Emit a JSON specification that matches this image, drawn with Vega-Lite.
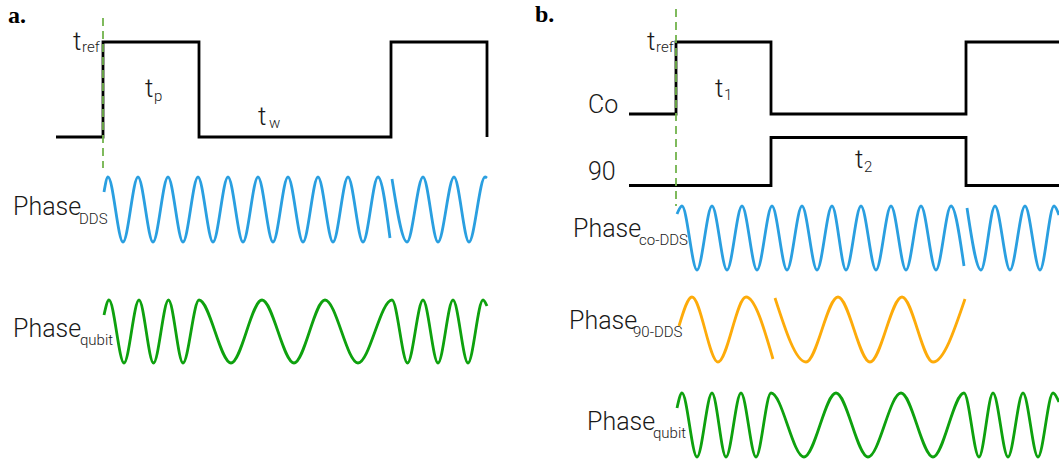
{
  "$schema": "https://vega.github.io/schema/vega-lite/v6.json",
  "width": 1059,
  "height": 465,
  "autosize": "none",
  "padding": 0,
  "background": "white",
  "config": {"view": {"stroke": null}},
  "datasets": {
    "pulses": [
      {"seg": "a-ref", "i": 1, "t": 56, "v": 137}, {"seg": "a-ref", "i": 2, "t": 103, "v": 137}, {"seg": "a-ref", "i": 3, "t": 103, "v": 42}, {"seg": "a-ref", "i": 4, "t": 199, "v": 42}, {"seg": "a-ref", "i": 5, "t": 199, "v": 137}, {"seg": "a-ref", "i": 6, "t": 391, "v": 137}, {"seg": "a-ref", "i": 7, "t": 391, "v": 42}, {"seg": "a-ref", "i": 8, "t": 487, "v": 42}, {"seg": "a-ref", "i": 9, "t": 487, "v": 137},
      {"seg": "b-co", "i": 1, "t": 629, "v": 114}, {"seg": "b-co", "i": 2, "t": 676, "v": 114}, {"seg": "b-co", "i": 3, "t": 676, "v": 42}, {"seg": "b-co", "i": 4, "t": 771, "v": 42}, {"seg": "b-co", "i": 5, "t": 771, "v": 114}, {"seg": "b-co", "i": 6, "t": 966, "v": 114}, {"seg": "b-co", "i": 7, "t": 966, "v": 42}, {"seg": "b-co", "i": 8, "t": 1062, "v": 42},
      {"seg": "b-90", "i": 1, "t": 629, "v": 185.5}, {"seg": "b-90", "i": 2, "t": 771, "v": 185.5}, {"seg": "b-90", "i": 3, "t": 771, "v": 137.5}, {"seg": "b-90", "i": 4, "t": 966, "v": 137.5}, {"seg": "b-90", "i": 5, "t": 966, "v": 185.5}, {"seg": "b-90", "i": 6, "t": 1062, "v": 185.5}
    ],
    "markers": [
      {"seg": "a", "t": 103, "v": 18}, {"seg": "a", "t": 103, "v": 168},
      {"seg": "b", "t": 676, "v": 9}, {"seg": "b", "t": 676, "v": 206}
    ],
    "waves": [
      {"seg": "a-dds-1", "sig": "DDS", "t": 104, "v": 192}, {"seg": "a-dds-1", "sig": "DDS", "t": 108, "v": 177}, {"seg": "a-dds-1", "sig": "DDS", "t": 123, "v": 242}, {"seg": "a-dds-1", "sig": "DDS", "t": 138, "v": 177}, {"seg": "a-dds-1", "sig": "DDS", "t": 153, "v": 242}, {"seg": "a-dds-1", "sig": "DDS", "t": 168, "v": 177}, {"seg": "a-dds-1", "sig": "DDS", "t": 183, "v": 242}, {"seg": "a-dds-1", "sig": "DDS", "t": 198, "v": 177}, {"seg": "a-dds-1", "sig": "DDS", "t": 213, "v": 242}, {"seg": "a-dds-1", "sig": "DDS", "t": 228, "v": 177}, {"seg": "a-dds-1", "sig": "DDS", "t": 243, "v": 242}, {"seg": "a-dds-1", "sig": "DDS", "t": 258, "v": 177}, {"seg": "a-dds-1", "sig": "DDS", "t": 273, "v": 242}, {"seg": "a-dds-1", "sig": "DDS", "t": 288, "v": 177}, {"seg": "a-dds-1", "sig": "DDS", "t": 303, "v": 242}, {"seg": "a-dds-1", "sig": "DDS", "t": 318, "v": 177}, {"seg": "a-dds-1", "sig": "DDS", "t": 333, "v": 242}, {"seg": "a-dds-1", "sig": "DDS", "t": 348, "v": 177}, {"seg": "a-dds-1", "sig": "DDS", "t": 363, "v": 242}, {"seg": "a-dds-1", "sig": "DDS", "t": 378, "v": 177}, {"seg": "a-dds-1", "sig": "DDS", "t": 390, "v": 238},
      {"seg": "a-dds-2", "sig": "DDS", "t": 392, "v": 179}, {"seg": "a-dds-2", "sig": "DDS", "t": 407, "v": 242}, {"seg": "a-dds-2", "sig": "DDS", "t": 423, "v": 177}, {"seg": "a-dds-2", "sig": "DDS", "t": 438, "v": 242}, {"seg": "a-dds-2", "sig": "DDS", "t": 454, "v": 177}, {"seg": "a-dds-2", "sig": "DDS", "t": 469, "v": 242}, {"seg": "a-dds-2", "sig": "DDS", "t": 485, "v": 177}, {"seg": "a-dds-2", "sig": "DDS", "t": 487, "v": 178},
      {"seg": "a-qb", "sig": "qubit", "t": 104, "v": 315}, {"seg": "a-qb", "sig": "qubit", "t": 109, "v": 300}, {"seg": "a-qb", "sig": "qubit", "t": 124, "v": 363}, {"seg": "a-qb", "sig": "qubit", "t": 139, "v": 300}, {"seg": "a-qb", "sig": "qubit", "t": 153.5, "v": 363}, {"seg": "a-qb", "sig": "qubit", "t": 168.5, "v": 300}, {"seg": "a-qb", "sig": "qubit", "t": 183, "v": 363}, {"seg": "a-qb", "sig": "qubit", "t": 199, "v": 300}, {"seg": "a-qb", "sig": "qubit", "t": 231, "v": 363}, {"seg": "a-qb", "sig": "qubit", "t": 262, "v": 300}, {"seg": "a-qb", "sig": "qubit", "t": 294, "v": 363}, {"seg": "a-qb", "sig": "qubit", "t": 325, "v": 300}, {"seg": "a-qb", "sig": "qubit", "t": 358, "v": 363}, {"seg": "a-qb", "sig": "qubit", "t": 392, "v": 300}, {"seg": "a-qb", "sig": "qubit", "t": 407.5, "v": 363}, {"seg": "a-qb", "sig": "qubit", "t": 423, "v": 300}, {"seg": "a-qb", "sig": "qubit", "t": 438, "v": 363}, {"seg": "a-qb", "sig": "qubit", "t": 453, "v": 300}, {"seg": "a-qb", "sig": "qubit", "t": 468, "v": 363}, {"seg": "a-qb", "sig": "qubit", "t": 483, "v": 300}, {"seg": "a-qb", "sig": "qubit", "t": 487, "v": 306},
      {"seg": "b-dds-1", "sig": "DDS", "t": 677, "v": 214}, {"seg": "b-dds-1", "sig": "DDS", "t": 682, "v": 206}, {"seg": "b-dds-1", "sig": "DDS", "t": 697, "v": 270}, {"seg": "b-dds-1", "sig": "DDS", "t": 712, "v": 206}, {"seg": "b-dds-1", "sig": "DDS", "t": 727, "v": 270}, {"seg": "b-dds-1", "sig": "DDS", "t": 742, "v": 206}, {"seg": "b-dds-1", "sig": "DDS", "t": 757, "v": 270}, {"seg": "b-dds-1", "sig": "DDS", "t": 772, "v": 206}, {"seg": "b-dds-1", "sig": "DDS", "t": 787, "v": 270}, {"seg": "b-dds-1", "sig": "DDS", "t": 802, "v": 206}, {"seg": "b-dds-1", "sig": "DDS", "t": 817, "v": 270}, {"seg": "b-dds-1", "sig": "DDS", "t": 832, "v": 206}, {"seg": "b-dds-1", "sig": "DDS", "t": 846, "v": 270}, {"seg": "b-dds-1", "sig": "DDS", "t": 861, "v": 206}, {"seg": "b-dds-1", "sig": "DDS", "t": 876, "v": 270}, {"seg": "b-dds-1", "sig": "DDS", "t": 891, "v": 206}, {"seg": "b-dds-1", "sig": "DDS", "t": 906, "v": 270}, {"seg": "b-dds-1", "sig": "DDS", "t": 921, "v": 206}, {"seg": "b-dds-1", "sig": "DDS", "t": 936, "v": 270}, {"seg": "b-dds-1", "sig": "DDS", "t": 951, "v": 206}, {"seg": "b-dds-1", "sig": "DDS", "t": 964, "v": 266},
      {"seg": "b-dds-2", "sig": "DDS", "t": 967, "v": 208}, {"seg": "b-dds-2", "sig": "DDS", "t": 981, "v": 270}, {"seg": "b-dds-2", "sig": "DDS", "t": 995, "v": 206}, {"seg": "b-dds-2", "sig": "DDS", "t": 1010, "v": 270}, {"seg": "b-dds-2", "sig": "DDS", "t": 1025, "v": 206}, {"seg": "b-dds-2", "sig": "DDS", "t": 1040, "v": 270}, {"seg": "b-dds-2", "sig": "DDS", "t": 1054, "v": 206}, {"seg": "b-dds-2", "sig": "DDS", "t": 1059, "v": 215},
      {"seg": "b-90-1", "sig": "90-DDS", "t": 679, "v": 326}, {"seg": "b-90-1", "sig": "90-DDS", "t": 692, "v": 297}, {"seg": "b-90-1", "sig": "90-DDS", "t": 718, "v": 362}, {"seg": "b-90-1", "sig": "90-DDS", "t": 746, "v": 297}, {"seg": "b-90-1", "sig": "90-DDS", "t": 773, "v": 359},
      {"seg": "b-90-2", "sig": "90-DDS", "t": 775, "v": 298}, {"seg": "b-90-2", "sig": "90-DDS", "t": 806, "v": 362}, {"seg": "b-90-2", "sig": "90-DDS", "t": 838, "v": 297}, {"seg": "b-90-2", "sig": "90-DDS", "t": 870, "v": 362}, {"seg": "b-90-2", "sig": "90-DDS", "t": 902, "v": 297}, {"seg": "b-90-2", "sig": "90-DDS", "t": 933, "v": 362}, {"seg": "b-90-2", "sig": "90-DDS", "t": 965, "v": 299},
      {"seg": "b-qb", "sig": "qubit", "t": 677, "v": 408}, {"seg": "b-qb", "sig": "qubit", "t": 682, "v": 393}, {"seg": "b-qb", "sig": "qubit", "t": 697, "v": 457}, {"seg": "b-qb", "sig": "qubit", "t": 712, "v": 393}, {"seg": "b-qb", "sig": "qubit", "t": 726, "v": 457}, {"seg": "b-qb", "sig": "qubit", "t": 741, "v": 393}, {"seg": "b-qb", "sig": "qubit", "t": 756, "v": 457}, {"seg": "b-qb", "sig": "qubit", "t": 771, "v": 393}, {"seg": "b-qb", "sig": "qubit", "t": 804, "v": 457}, {"seg": "b-qb", "sig": "qubit", "t": 836, "v": 393}, {"seg": "b-qb", "sig": "qubit", "t": 868, "v": 457}, {"seg": "b-qb", "sig": "qubit", "t": 901, "v": 393}, {"seg": "b-qb", "sig": "qubit", "t": 933, "v": 457}, {"seg": "b-qb", "sig": "qubit", "t": 964, "v": 393}, {"seg": "b-qb", "sig": "qubit", "t": 979, "v": 457}, {"seg": "b-qb", "sig": "qubit", "t": 993, "v": 393}, {"seg": "b-qb", "sig": "qubit", "t": 1008, "v": 457}, {"seg": "b-qb", "sig": "qubit", "t": 1023, "v": 393}, {"seg": "b-qb", "sig": "qubit", "t": 1038, "v": 457}, {"seg": "b-qb", "sig": "qubit", "t": 1053, "v": 393}, {"seg": "b-qb", "sig": "qubit", "t": 1059, "v": 402}
    ],
    "tmain": [
      {"t": 73, "v": 50, "label": "t"}, {"t": 145, "v": 97, "label": "t"}, {"t": 258, "v": 125, "label": "t"},
      {"t": 647, "v": 50, "label": "t"}, {"t": 715, "v": 97, "label": "t"}, {"t": 855, "v": 168, "label": "t"}
    ],
    "names": [
      {"t": 13, "v": 215, "label": "Phase"}, {"t": 13, "v": 337, "label": "Phase"},
      {"t": 573, "v": 237, "label": "Phase"}, {"t": 569, "v": 329, "label": "Phase"}, {"t": 587, "v": 430, "label": "Phase"},
      {"t": 588, "v": 113, "label": "Co"}, {"t": 588, "v": 180, "label": "90"}
    ],
    "subs": [
      {"t": 82, "v": 52, "label": "ref"}, {"t": 154, "v": 101, "label": "p"}, {"t": 269, "v": 128, "label": "w"},
      {"t": 656, "v": 52, "label": "ref"}, {"t": 724, "v": 100, "label": "1"}, {"t": 864, "v": 172, "label": "2"},
      {"t": 79, "v": 224, "label": "DDS"}, {"t": 80, "v": 345, "label": "qubit"},
      {"t": 639, "v": 245, "label": "co-DDS"}, {"t": 633, "v": 337, "label": "90-DDS"}, {"t": 653, "v": 438, "label": "qubit"}
    ],
    "panels": [
      {"t": 8, "v": 23, "label": "a."}, {"t": 535, "v": 22, "label": "b."}
    ]
  },
  "encoding": {
    "x": {"field": "t", "type": "quantitative", "scale": {"domain": [0, 1059], "nice": false, "zero": false}, "axis": null},
    "y": {"field": "v", "type": "quantitative", "scale": {"domain": [0, 465], "nice": false, "zero": false, "reverse": true}, "axis": null}
  },
  "layer": [
    {
      "data": {"name": "pulses"},
      "mark": {"type": "line", "color": "#000000", "strokeWidth": 2.8, "strokeJoin": "miter", "strokeCap": "butt"},
      "encoding": {"detail": {"field": "seg"}, "order": {"field": "i", "type": "quantitative"}}
    },
    {
      "data": {"name": "markers"},
      "mark": {"type": "line", "color": "#72b34c", "strokeWidth": 1.8, "strokeDash": [8, 5]},
      "encoding": {"detail": {"field": "seg"}}
    },
    {
      "data": {"name": "waves"},
      "mark": {"type": "line", "interpolate": "monotone", "strokeWidth": 2.8, "strokeCap": "butt"},
      "encoding": {
        "detail": {"field": "seg"},
        "color": {"field": "sig", "type": "nominal", "legend": null,
          "scale": {"domain": ["DDS", "qubit", "90-DDS"], "range": ["#2a9fe0", "#0ea10e", "#fdab0a"]}}
      }
    },
    {
      "data": {"name": "tmain"},
      "mark": {"type": "text", "align": "left", "baseline": "alphabetic", "font": "Roboto", "fontWeight": 300, "fontSize": 26, "color": "#1a1a1a"},
      "encoding": {"text": {"field": "label"}}
    },
    {
      "data": {"name": "names"},
      "mark": {"type": "text", "align": "left", "baseline": "alphabetic", "font": "Roboto", "fontWeight": 300, "fontSize": 25, "color": "#1a1a1a"},
      "encoding": {"text": {"field": "label"}}
    },
    {
      "data": {"name": "subs"},
      "mark": {"type": "text", "align": "left", "baseline": "alphabetic", "font": "Roboto", "fontWeight": 300, "fontSize": 15, "color": "#1a1a1a"},
      "encoding": {"text": {"field": "label"}}
    },
    {
      "data": {"name": "panels"},
      "mark": {"type": "text", "align": "left", "baseline": "alphabetic", "font": "Liberation Serif", "fontWeight": "bold", "fontSize": 24, "color": "#000000"},
      "encoding": {"text": {"field": "label"}}
    }
  ]
}
